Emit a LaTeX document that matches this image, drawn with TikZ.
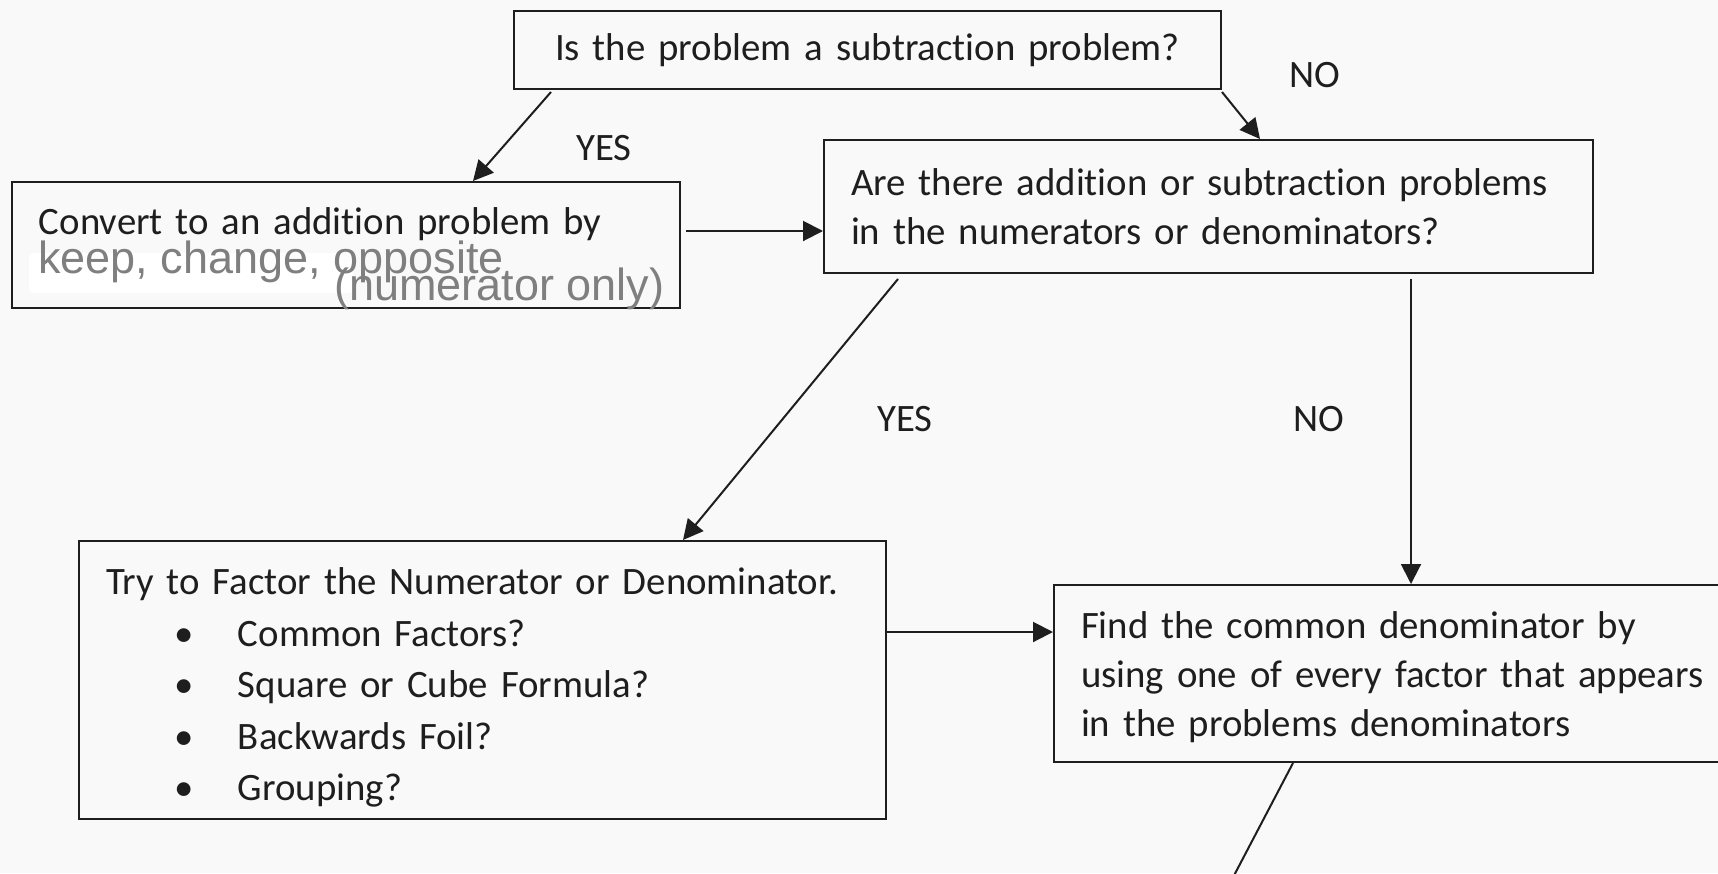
\documentclass[tikz,border=0pt]{standalone}
\usepackage{fontspec}
\setmainfont[Ligatures=NoCommon]{Carlito}
\newfontfamily\notefont{Liberation Sans}
\usetikzlibrary{arrows.meta}
\definecolor{paper}{HTML}{F9F9F9}
\definecolor{ink}{HTML}{1E1E1E}
\definecolor{notegray}{HTML}{7F7F7F}
\tikzset{
	box/.style={draw=ink, line width=1pt, anchor=north west, inner xsep=13.5pt, inner ysep=0pt, align=left, text=ink, font=\fontsize{19.4}{24.5}\selectfont},
	flow/.style={draw=ink, line width=1pt, -{Triangle[length=10pt,width=10pt]}},
	answer/.style={text=ink, font=\fontsize{19.4}{24.5}\selectfont},
	note/.style={text=notegray, anchor=base west, inner sep=0pt, font=\notefont\fontsize{22.5}{27}\selectfont}
}

\begin{document}
\begin{tikzpicture}[x=0.5pt,y=-0.5pt]
			%Page
			\fill[paper] (0,0) rectangle (1718,873);
			\useasboundingbox (0,0) rectangle (1718,873);
			\clip (0,0) rectangle (1718,873);

			%Boxes
			\node[box, text width=326.5pt, minimum height=39pt, align=center] (q1) at (513,10) {Is the problem a subtraction problem?};
			\node[box, text width=307pt, text height=26pt, text depth=37pt] (convert) at (11,181) {Convert to an addition problem by};
			\node[box, text width=357.5pt, minimum height=66.5pt] (q2) at (823,139) {Are there addition or subtraction problems\\in the numerators or denominators?};
			\node[box, text width=376.5pt, minimum height=139pt, font=\fontsize{19.4}{25.7}\selectfont] (factor) at (78,540) {\rule{0pt}{21pt}Try to Factor the Numerator or Denominator.\\
				\hspace*{34pt}\makebox[32pt][l]{\textbullet}Common Factors?\\
				\hspace*{34pt}\makebox[32pt][l]{\textbullet}Square or Cube Formula?\\
				\hspace*{34pt}\makebox[32pt][l]{\textbullet}Backwards Foil?\\
				\hspace*{34pt}\makebox[32pt][l]{\textbullet}Grouping?};
			\node[box, text width=323pt, minimum height=88.5pt] (common) at (1053,584) {\rule{0pt}{17pt}Find the common denominator by\\using one of every factor that appears\\in the problems denominators};

			%Note over the convert box
			\fill[white, rounded corners=2pt] (29,253) rectangle (353,293);
			\node[note] (keep) at (38,273) {keep, change, opposite};
			\node[note] (only) at (334,300) {(numerator only)};

			%Arrows
			\draw[flow] ([xshift=19pt,yshift=-1pt]q1.south west) -- ([xshift=231pt]convert.north west);
			\draw[flow] ([yshift=-1pt]q1.south east) -- ([xshift=218.5pt]q2.north west);
			\draw[flow] ([xshift=2.5pt,yshift=-25pt]convert.north east) -- ([yshift=-46pt]q2.north west);
			\draw[flow] ([xshift=37.5pt,yshift=-2.5pt]q2.south west) -- ([xshift=302.5pt]factor.north west);
			\draw[flow] ([xshift=294pt,yshift=-2.5pt]q2.south west) -- ([xshift=179pt]common.north west);
			\draw[flow] ([yshift=-46pt]factor.north east) -- ([yshift=-24pt]common.north west);
			\coordinate (next) at (1229,885);
			\draw[ink, line width=1pt] ([xshift=120pt]common.south west) -- (next);

			%Answers
			\foreach \n/\x/\y/\t in {yesA/604/148/YES, noA/1315/75/NO, yesB/905/419/YES, noB/1319/419/NO}
				\node[answer] (\n) at (\x,\y) {\t};
\end{tikzpicture}
\end{document}
